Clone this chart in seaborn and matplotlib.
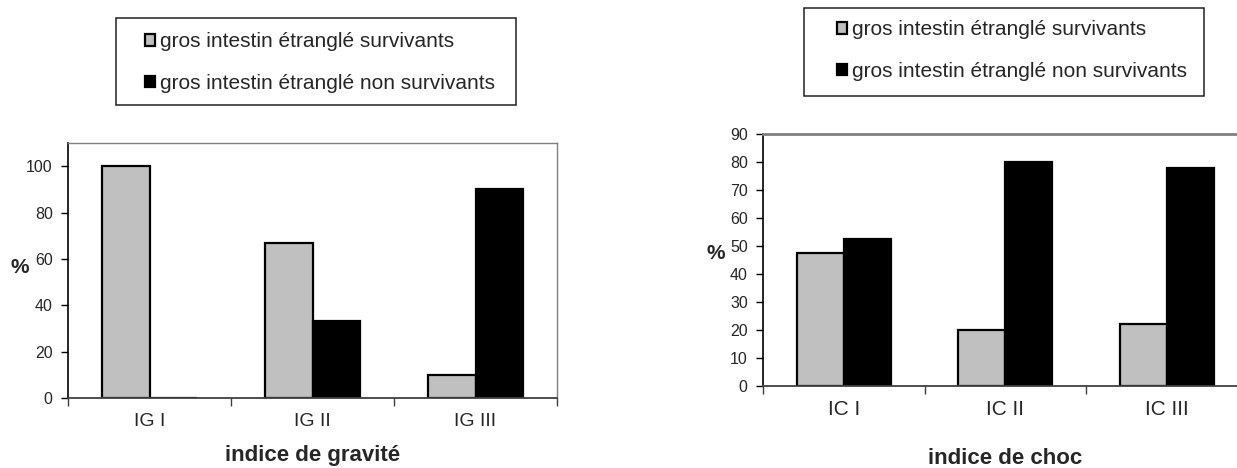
import matplotlib
matplotlib.use("Agg")
import matplotlib.pyplot as plt
from matplotlib.patches import Rectangle
from matplotlib.ticker import FixedLocator
import pandas as pd
import seaborn as sns

# ---- data -------------------------------------------------------------
series_names = ["gros intestin étranglé survivants",
                "gros intestin étranglé non survivants"]

gravite_categories = ["IG I", "IG II", "IG III"]
gravite_survivants = [100, 66.7, 10]
gravite_non_survivants = [0, 33.3, 90]

choc_categories = ["IC I", "IC II", "IC III"]
choc_survivants = [47.6, 20, 22.2]
choc_non_survivants = [52.4, 80, 77.8]

gravite_yticks = [0, 20, 40, 60, 80, 100]
choc_yticks = [0, 10, 20, 30, 40, 50, 60, 70, 80, 90]


def long_table(categories, surv, non_surv):
    rows = []
    for c, s, n in zip(categories, surv, non_surv):
        rows.append({"indice": c, "groupe": series_names[0], "pct": s})
        rows.append({"indice": c, "groupe": series_names[1], "pct": n})
    return pd.DataFrame(rows)


# ---- style ------------------------------------------------------------
sns.set_theme(style="white")
plt.rcParams["font.family"] = ["Liberation Sans", "DejaVu Sans"]

GREY = "#C0C0C0"
W, H = 1237, 468
fig = plt.figure(figsize=(W / 100, H / 100), dpi=100)
fig.patch.set_facecolor("white")


def px_axes(x0, y0, x1, y1):
    return fig.add_axes([x0 / W, 1 - y1 / H, (x1 - x0) / W, (y1 - y0) / H])


def draw_panel(ax, df, categories, yticks, ylim, xlabel, ylabel_xy, xlabel_y,
               xtick_size, xtick_pad, top_spine_lw):
    sns.barplot(data=df, x="indice", y="pct", hue="groupe", order=categories,
                hue_order=series_names, palette=[GREY, "black"],
                edgecolor="black", linewidth=1.6, width=0.58, gap=0,
                saturation=1, ax=ax)
    handles, labels = ax.get_legend_handles_labels()
    if ax.get_legend() is not None:
        ax.get_legend().remove()

    ax.set_xlim(-0.5, len(categories) - 0.5)
    ax.set_ylim(*ylim)
    ax.set_yticks(yticks)
    ax.set_yticklabels([str(t) for t in yticks], fontsize=11.5)
    ax.tick_params(axis="y", direction="out", length=5, width=1,
                   color="black", pad=6, left=True)
    ax.set_xticks(range(len(categories)))
    ax.set_xticklabels(categories, fontsize=xtick_size)
    ax.xaxis.set_minor_locator(FixedLocator(
        [i - 0.5 for i in range(len(categories) + 1)]))
    ax.tick_params(axis="x", which="major", length=0, pad=xtick_pad)
    ax.tick_params(axis="x", which="minor", direction="out", length=6,
                   width=1, color="#404040", bottom=True)

    ax.set_xlabel(xlabel, fontsize=16, fontweight="bold")
    ax.xaxis.set_label_coords(0.5, xlabel_y)
    ax.xaxis.label.set_verticalalignment("center")
    ax.set_ylabel("%", fontsize=15, fontweight="bold", rotation=0,
                  ha="center", va="center")
    ax.yaxis.set_label_coords(*ylabel_xy)

    ax.spines["left"].set_color("black")
    ax.spines["left"].set_linewidth(1.2)
    ax.spines["bottom"].set_color("#404040")
    ax.spines["bottom"].set_linewidth(1.3)
    ax.spines["top"].set_color("#808080")
    ax.spines["top"].set_linewidth(top_spine_lw)
    ax.spines["right"].set_color("#808080")
    ax.spines["right"].set_linewidth(1)
    ax.grid(False)
    return handles, labels


def draw_legend(handles, labels, box, first_row_top, handle_x):
    x0, y0, x1, y1 = box
    fig.add_artist(Rectangle((x0 / W, 1 - y1 / H), (x1 - x0) / W,
                             (y1 - y0) / H, transform=fig.transFigure,
                             facecolor="white", edgecolor="#202020",
                             linewidth=1.1, zorder=0))
    fig.legend(handles, labels, loc="upper left",
               bbox_to_anchor=(handle_x / W, 1 - first_row_top / H),
               frameon=False, fontsize=15, borderpad=0, borderaxespad=0,
               handlelength=0.5, handleheight=0.5, handletextpad=0.2,
               labelspacing=1.1)


# ---- left panel: indice de gravité -------------------------------------
ax1 = px_axes(68, 143, 557, 398)
h1, l1 = draw_panel(ax1, long_table(gravite_categories, gravite_survivants,
                                     gravite_non_survivants),
                    gravite_categories, gravite_yticks, (0, 110),
                    "indice de gravité", (-0.098, 0.51), -0.227,
                    14, 11, 1.0)
draw_legend(h1, l1, (116, 18, 516, 105), 32, 145)

# ---- right panel: indice de choc ---------------------------------------
ax2 = px_axes(763, 134, 1247.5, 386)
h2, l2 = draw_panel(ax2, long_table(choc_categories, choc_survivants,
                                     choc_non_survivants),
                    choc_categories, choc_yticks, (0, 90),
                    "indice de choc", (-0.097, 0.524), -0.286,
                    15, 10, 2.0)
draw_legend(h2, l2, (804, 8, 1204, 96), 20, 837)

fig.savefig("out.png", dpi=100, facecolor="white")
